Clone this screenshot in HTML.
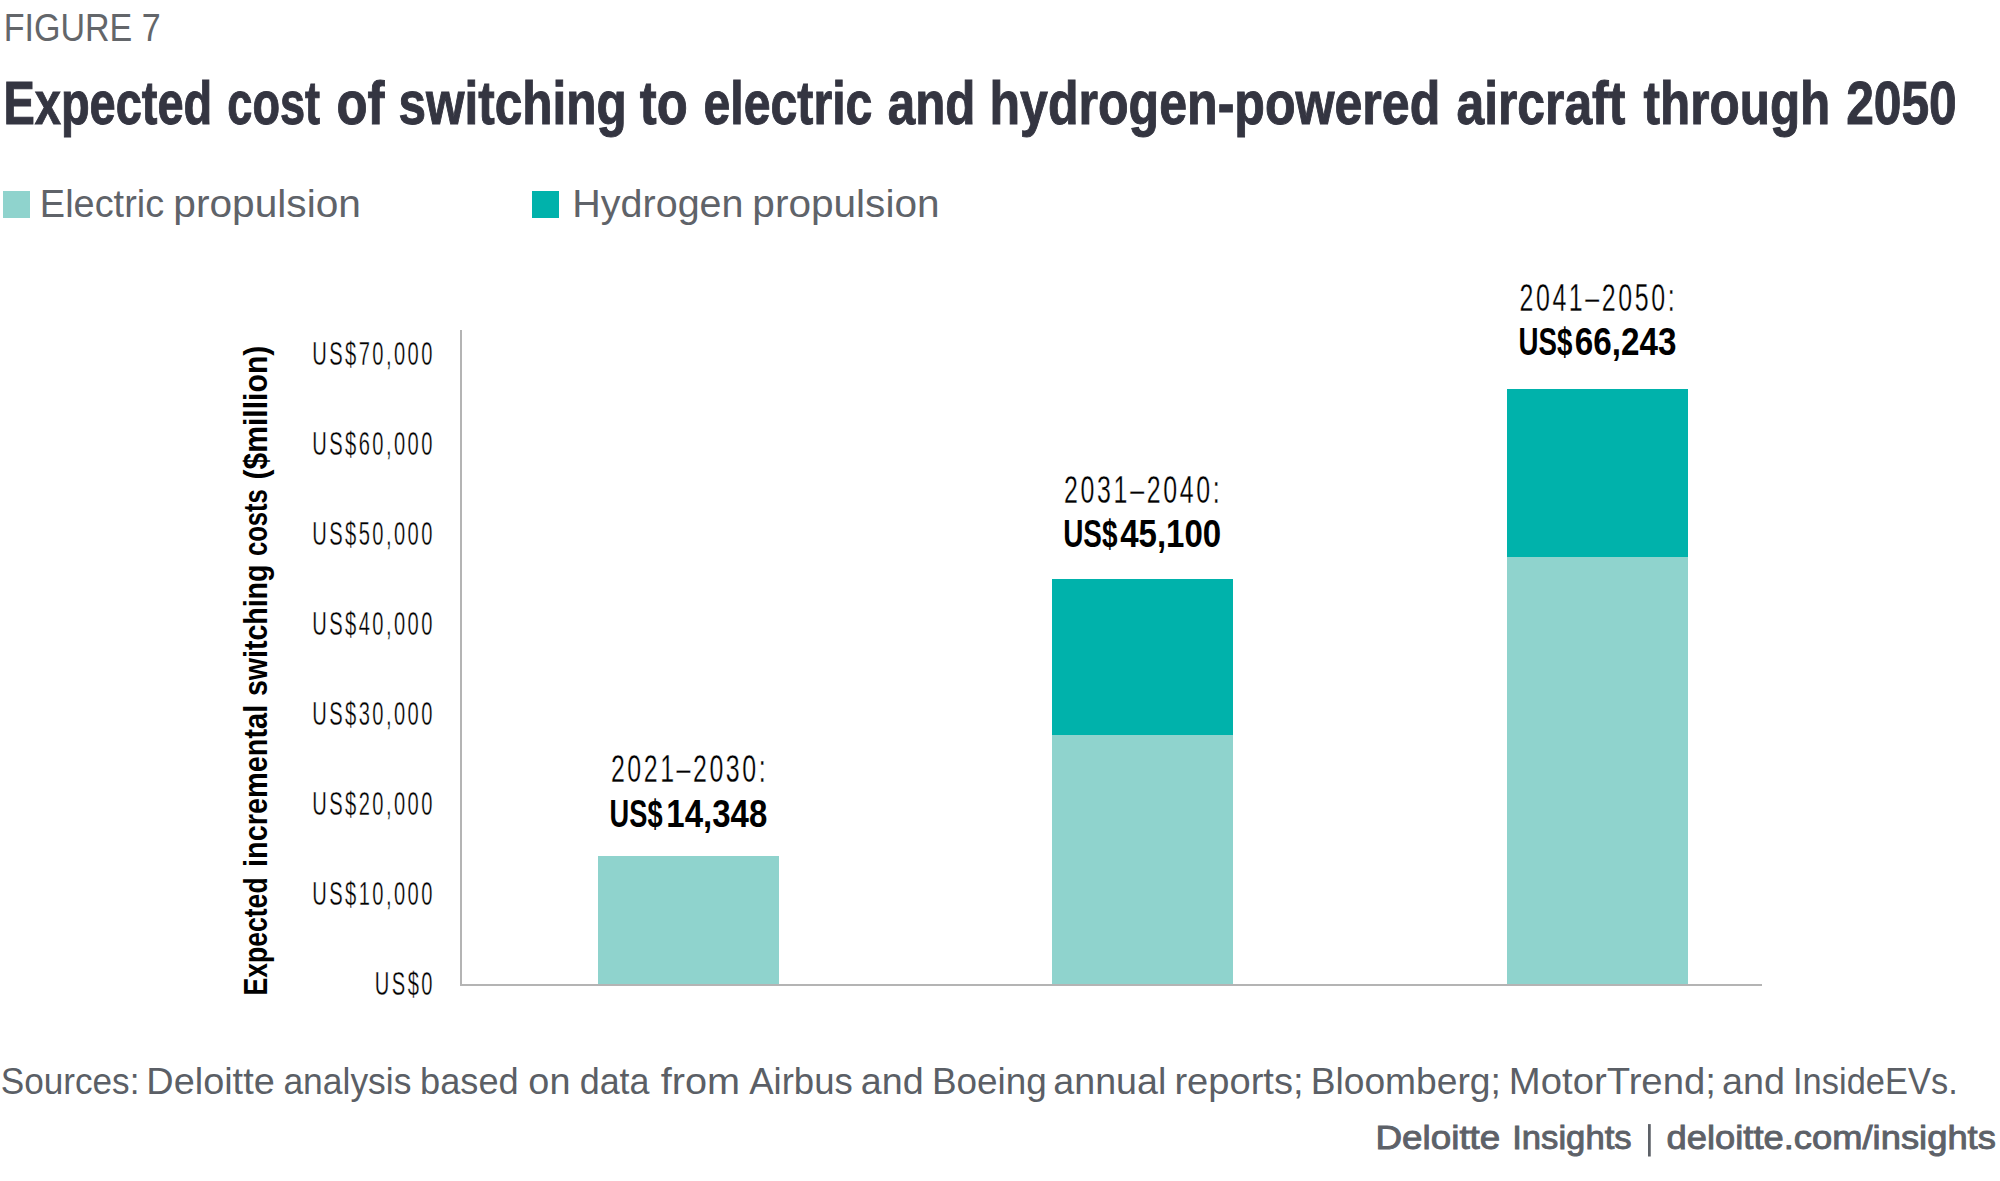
<!DOCTYPE html>
<html><head><meta charset="utf-8"><title>Figure 7</title>
<style>html,body{margin:0;padding:0;background:#fff;}svg{display:block;}text{font-family:"Liberation Sans",sans-serif;white-space:pre;}</style>
</head><body>
<svg width="2000" height="1181" viewBox="0 0 2000 1181">
<rect width="2000" height="1181" fill="#fff"/>
<rect x="3" y="191" width="27" height="27" fill="#8fd3cd"/>
<rect x="532" y="191" width="27" height="27" fill="#00b2ab"/>
<rect x="598" y="856" width="181" height="129" fill="#8fd3cd"/>
<rect x="1052" y="579" width="181" height="156" fill="#00b2ab"/>
<rect x="1052" y="735" width="181" height="250" fill="#8fd3cd"/>
<rect x="1507" y="389" width="181" height="168" fill="#00b2ab"/>
<rect x="1507" y="557" width="181" height="428" fill="#8fd3cd"/>
<rect x="460" y="330" width="2" height="656" fill="#b4b4b4"/>
<rect x="460" y="984" width="1302" height="2" fill="#b4b4b4"/>
<rect x="1648" y="1124.1" width="2.75" height="32.4" fill="#5d6168"/>
<text transform="translate(3.69,41.00) scale(0.8839,1)" font-weight="normal" font-size="38.52" fill="#63666a">FIGURE 7</text>
<text transform="translate(610.90,782.10) scale(0.6499,1)" font-weight="normal" font-size="38.37" letter-spacing="3.940" fill="#000" stroke="#fff" stroke-width="0.30">2021–2030:</text>
<text transform="translate(1064.00,502.80) scale(0.6503,1)" font-weight="normal" font-size="38.37" letter-spacing="4.094" fill="#000" stroke="#fff" stroke-width="0.30">2031–2040:</text>
<text transform="translate(1519.45,310.55) scale(0.6497,1)" font-weight="normal" font-size="38.37" letter-spacing="4.017" fill="#000" stroke="#fff" stroke-width="0.30">2041–2050:</text>
<text transform="translate(3.49,124.20) scale(0.7770,1)" font-weight="bold" font-size="60.47" fill="#343541" stroke="#343541" stroke-width="1.00">Expected</text>
<text transform="translate(227.34,124.20) scale(0.7464,1)" font-weight="bold" font-size="60.47" fill="#343541" stroke="#343541" stroke-width="1.00">cost</text>
<text transform="translate(336.40,124.20) scale(0.8408,1)" font-weight="bold" font-size="60.47" fill="#343541" stroke="#343541" stroke-width="1.00">of</text>
<text transform="translate(398.55,124.20) scale(0.8186,1)" font-weight="bold" font-size="60.47" fill="#343541" stroke="#343541" stroke-width="1.00">switching</text>
<text transform="translate(639.84,124.20) scale(0.8397,1)" font-weight="bold" font-size="60.47" fill="#343541" stroke="#343541" stroke-width="1.00">to</text>
<text transform="translate(703.50,124.20) scale(0.7978,1)" font-weight="bold" font-size="60.47" fill="#343541" stroke="#343541" stroke-width="1.00">electric</text>
<text transform="translate(887.73,124.20) scale(0.8157,1)" font-weight="bold" font-size="60.47" fill="#343541" stroke="#343541" stroke-width="1.00">and</text>
<text transform="translate(989.42,124.20) scale(0.8287,1)" font-weight="bold" font-size="60.47" fill="#343541" stroke="#343541" stroke-width="1.00">hydrogen-powered</text>
<text transform="translate(1456.47,124.20) scale(0.8234,1)" font-weight="bold" font-size="60.47" fill="#343541" stroke="#343541" stroke-width="1.00">aircraft</text>
<text transform="translate(1643.60,124.20) scale(0.8176,1)" font-weight="bold" font-size="60.47" fill="#343541" stroke="#343541" stroke-width="1.00">through</text>
<text transform="translate(1846.18,124.20) scale(0.8221,1)" font-weight="bold" font-size="60.47" fill="#343541" stroke="#343541" stroke-width="1.00">2050</text>
<text transform="translate(267.30,995.49) rotate(-90) scale(0.7880,1)" font-weight="bold" font-size="33.72" fill="#000">Expected</text>
<text transform="translate(267.30,867.03) rotate(-90) scale(0.8574,1)" font-weight="bold" font-size="33.72" fill="#000">incremental</text>
<text transform="translate(267.30,695.97) rotate(-90) scale(0.8451,1)" font-weight="bold" font-size="33.72" fill="#000">switching</text>
<text transform="translate(267.30,556.06) rotate(-90) scale(0.7597,1)" font-weight="bold" font-size="33.72" fill="#000">costs</text>
<text transform="translate(267.30,479.62) rotate(-90) scale(0.8944,1)" font-weight="bold" font-size="33.72" fill="#000">($million)</text>
<text transform="translate(609.60,826.60) scale(0.7066,1)" font-weight="bold" font-size="38.52" fill="#000">US$</text>
<text transform="translate(666.31,826.60) scale(0.8572,1)" font-weight="bold" font-size="38.52" fill="#000">14,348</text>
<text transform="translate(1063.21,547.40) scale(0.7247,1)" font-weight="bold" font-size="38.52" fill="#000">US$</text>
<text transform="translate(1120.15,547.40) scale(0.8582,1)" font-weight="bold" font-size="38.52" fill="#000">45,100</text>
<text transform="translate(1518.62,354.90) scale(0.7191,1)" font-weight="bold" font-size="38.52" fill="#000">US$</text>
<text transform="translate(1574.86,354.90) scale(0.8629,1)" font-weight="bold" font-size="38.52" fill="#000">66,243</text>
<text transform="translate(39.86,216.80) scale(0.9919,1)" font-weight="normal" font-size="38.23" fill="#5f6369">Electric</text>
<text transform="translate(173.33,216.80) scale(1.0634,1)" font-weight="normal" font-size="38.23" fill="#5f6369">propulsion</text>
<text transform="translate(572.33,216.80) scale(1.0330,1)" font-weight="normal" font-size="38.23" fill="#5f6369">Hydrogen</text>
<text transform="translate(752.33,216.80) scale(1.0616,1)" font-weight="normal" font-size="38.23" fill="#5f6369">propulsion</text>
<text transform="translate(0.68,1093.50) scale(0.9683,1)" font-weight="normal" font-size="36.34" fill="#5b5f66">Sources:</text>
<text transform="translate(146.37,1093.50) scale(1.0419,1)" font-weight="normal" font-size="36.34" fill="#5b5f66">Deloitte</text>
<text transform="translate(283.41,1093.50) scale(0.9756,1)" font-weight="normal" font-size="36.34" fill="#5b5f66">analysis</text>
<text transform="translate(420.11,1093.50) scale(0.9958,1)" font-weight="normal" font-size="36.34" fill="#5b5f66">based</text>
<text transform="translate(528.37,1093.50) scale(1.0404,1)" font-weight="normal" font-size="36.34" fill="#5b5f66">on</text>
<text transform="translate(579.69,1093.50) scale(0.9876,1)" font-weight="normal" font-size="36.34" fill="#5b5f66">data</text>
<text transform="translate(660.68,1093.50) scale(1.0919,1)" font-weight="normal" font-size="36.34" fill="#5b5f66">from</text>
<text transform="translate(749.20,1093.50) scale(1.0052,1)" font-weight="normal" font-size="36.34" fill="#5b5f66">Airbus</text>
<text transform="translate(860.81,1093.50) scale(1.0368,1)" font-weight="normal" font-size="36.34" fill="#5b5f66">and</text>
<text transform="translate(931.95,1093.50) scale(1.0157,1)" font-weight="normal" font-size="36.34" fill="#5b5f66">Boeing</text>
<text transform="translate(1053.31,1093.50) scale(1.0358,1)" font-weight="normal" font-size="36.34" fill="#5b5f66">annual</text>
<text transform="translate(1174.44,1093.50) scale(1.0480,1)" font-weight="normal" font-size="36.34" fill="#5b5f66">reports;</text>
<text transform="translate(1310.68,1093.50) scale(1.0233,1)" font-weight="normal" font-size="36.34" fill="#5b5f66">Bloomberg;</text>
<text transform="translate(1508.84,1093.50) scale(1.0535,1)" font-weight="normal" font-size="36.34" fill="#5b5f66">MotorTrend;</text>
<text transform="translate(1722.06,1093.50) scale(1.0368,1)" font-weight="normal" font-size="36.34" fill="#5b5f66">and</text>
<text transform="translate(1793.05,1093.50) scale(0.9482,1)" font-weight="normal" font-size="36.34" fill="#5b5f66">InsideEVs.</text>
<text transform="translate(1375.46,1148.70) scale(1.1366,1)" font-weight="normal" font-size="32.41" fill="#5d6168" stroke="#5d6168" stroke-width="0.90">Deloitte</text>
<text transform="translate(1512.19,1148.70) scale(1.0692,1)" font-weight="normal" font-size="32.41" fill="#5d6168" stroke="#5d6168" stroke-width="0.90">Insights</text>
<text transform="translate(1666.45,1148.70) scale(1.1223,1)" font-weight="normal" font-size="32.41" fill="#5d6168" stroke="#5d6168" stroke-width="0.90">deloitte.com/insights</text>
<text transform="translate(312.31,364.70) scale(0.6000,1)" font-weight="normal" font-size="33.58" letter-spacing="4.024" fill="#000" stroke="#fff" stroke-width="0.35">US$70,000</text>
<text transform="translate(312.31,454.73) scale(0.6000,1)" font-weight="normal" font-size="33.58" letter-spacing="4.024" fill="#000" stroke="#fff" stroke-width="0.35">US$60,000</text>
<text transform="translate(312.31,544.76) scale(0.6000,1)" font-weight="normal" font-size="33.58" letter-spacing="4.024" fill="#000" stroke="#fff" stroke-width="0.35">US$50,000</text>
<text transform="translate(312.31,634.79) scale(0.6000,1)" font-weight="normal" font-size="33.58" letter-spacing="4.024" fill="#000" stroke="#fff" stroke-width="0.35">US$40,000</text>
<text transform="translate(312.31,724.82) scale(0.6000,1)" font-weight="normal" font-size="33.58" letter-spacing="4.024" fill="#000" stroke="#fff" stroke-width="0.35">US$30,000</text>
<text transform="translate(312.31,814.85) scale(0.6000,1)" font-weight="normal" font-size="33.58" letter-spacing="4.024" fill="#000" stroke="#fff" stroke-width="0.35">US$20,000</text>
<text transform="translate(312.31,904.88) scale(0.6000,1)" font-weight="normal" font-size="33.58" letter-spacing="4.024" fill="#000" stroke="#fff" stroke-width="0.35">US$10,000</text>
<text transform="translate(374.86,994.91) scale(0.6000,1)" font-weight="normal" font-size="33.58" letter-spacing="4.024" fill="#000" stroke="#fff" stroke-width="0.35">US$0</text>
</svg>
</body></html>
